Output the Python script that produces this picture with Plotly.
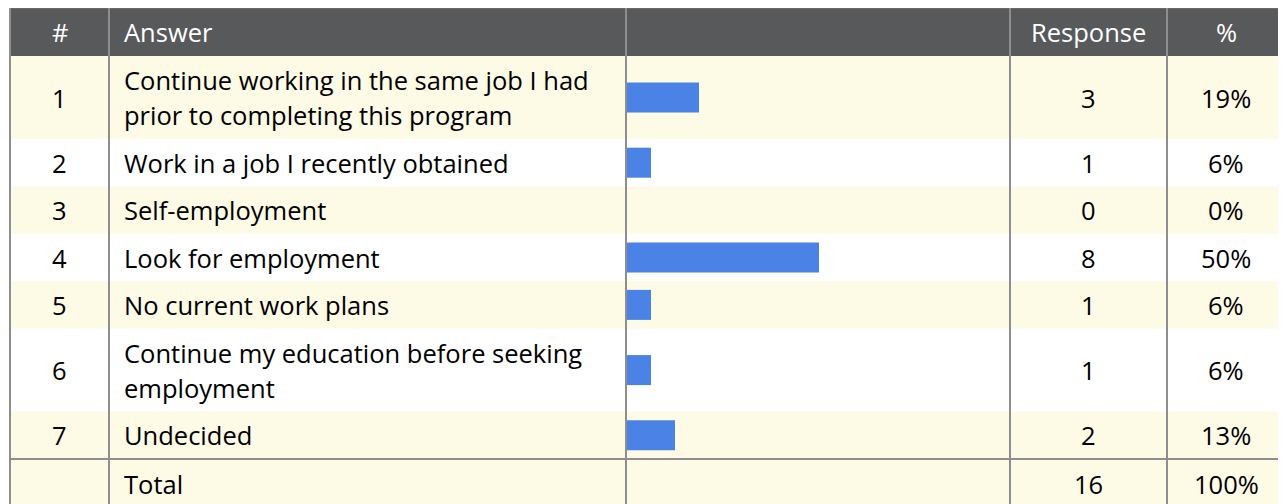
import plotly.graph_objects as go

# ---- data ----
row_ids = ["1", "2", "3", "4", "5", "6", "7"]
answers = [
    "Continue working in the same job I had\nprior to completing this program",
    "Work in a job I recently obtained",
    "Self-employment",
    "Look for employment",
    "No current work plans",
    "Continue my education before seeking\nemployment",
    "Undecided",
]
responses = [3, 1, 0, 8, 1, 1, 2]
percents = ["19%", "6%", "0%", "50%", "6%", "6%", "13%"]
total_label = "Total"
total_responses = 16
total_percent = "100%"
headers = ["#", "Answer", "", "Response", "%"]

# ---- layout constants (pixels, in screen coordinates) ----
W, H = 1286, 504
OFF = 8  # page body margin offset
FONT = "Open Sans"
FS = 25.5
HEADER_BG = "#58595B"
ALT_BG = "#FDFAE6"
BAR_COLOR = "#4A82E6"
LINE_COLOR = "#8E8E8E"
col_edges = [10, 109, 626, 1010, 1167, 1300]
top = 8
header_h = 48
single_h = 47.4
double_h = 83
line_gap = 35

row_heights = [double_h if "\n" in a else single_h for a in answers] + [single_h + 10]
row_tops = []
y = top + header_h
for h in row_heights:
    row_tops.append(y)
    y += h
row_centers = [t + h / 2 for t, h in zip(row_tops, row_heights)]
row_centers[-1] = row_tops[-1] + single_h / 2 + 1

shapes = []
shapes.append(dict(type="rect", xref="x", yref="y", x0=col_edges[0], x1=W + 20,
                   y0=top, y1=top + header_h, fillcolor=HEADER_BG, line_width=0, layer="below"))
for i, (t, h) in enumerate(zip(row_tops, row_heights)):
    if i % 2 == 0 or i == len(row_heights) - 1:
        shapes.append(dict(type="rect", xref="x", yref="y", x0=col_edges[0], x1=W + 20,
                           y0=t, y1=t + h, fillcolor=ALT_BG, line_width=0, layer="below"))
shapes.append(dict(type="line", xref="x", yref="y", x0=col_edges[0], x1=W + 20, y0=top - 0.5, y1=top - 0.5,
                   line=dict(color="#7A7A7A", width=2)))
shapes.append(dict(type="line", xref="x", yref="y", x0=col_edges[0], x1=W + 20,
                   y0=row_tops[-1], y1=row_tops[-1], line=dict(color=LINE_COLOR, width=2)))
for xe in col_edges[:-1]:
    shapes.append(dict(type="line", xref="x", yref="y", x0=xe, x1=xe, y0=top, y1=H + 20,
                       line=dict(color=LINE_COLOR, width=2)))

annotations = []
def add_text(x, y, text, anchor, color="#000000"):
    annotations.append(dict(x=x, y=y, xref="x", yref="y", text=text, showarrow=False,
                            xanchor=anchor, yanchor="middle",
                            font=dict(family=FONT, size=FS, color=color)))

centers_x = [(col_edges[i] + col_edges[i + 1]) / 2 for i in range(len(col_edges) - 1)]
centers_x[4] = 1226
answer_x = 122
hy = top + header_h / 2
add_text(centers_x[0], hy, headers[0], "center", "white")
add_text(answer_x, hy, headers[1], "left", "white")
add_text(centers_x[3], hy, headers[3], "center", "white")
add_text(centers_x[4], hy, headers[4], "center", "white")

for i, rid in enumerate(row_ids):
    cy = row_centers[i]
    add_text(centers_x[0], cy, rid, "center")
    lines = answers[i].split("\n")
    n = len(lines)
    for k, ln in enumerate(lines):
        add_text(answer_x, cy + (k - (n - 1) / 2) * line_gap, ln, "left")
    add_text(centers_x[3], cy, str(responses[i]), "center")
    add_text(centers_x[4], cy, percents[i], "center")

cy = row_centers[-1]
add_text(answer_x, cy, total_label, "left")
add_text(centers_x[3], cy, str(total_responses), "center")
add_text(centers_x[4], cy, total_percent, "center")

bar_left = col_edges[2] + 1
bar_px_per_unit = 24
fig = go.Figure()
fig.add_trace(go.Bar(x=responses, y=row_centers[:len(responses)], orientation="h",
                     width=30, marker=dict(color=BAR_COLOR, line=dict(width=0)),
                     xaxis="x2", yaxis="y", hoverinfo="skip"))

fig.update_layout(
    width=W, height=H,
    margin=dict(l=0, r=0, t=0, b=0),
    paper_bgcolor="white", plot_bgcolor="rgba(0,0,0,0)",
    showlegend=False,
    xaxis=dict(range=[OFF, W + OFF], domain=[0, 1], visible=False, fixedrange=True),
    xaxis2=dict(range=[0, total_responses],
                domain=[(bar_left - OFF) / W, (bar_left - OFF + bar_px_per_unit * total_responses) / W],
                anchor="y", visible=False, fixedrange=True),
    yaxis=dict(range=[H + OFF, OFF], domain=[0, 1], visible=False, fixedrange=True),
    shapes=shapes,
    annotations=annotations,
)
fig.write_html("out.html")
